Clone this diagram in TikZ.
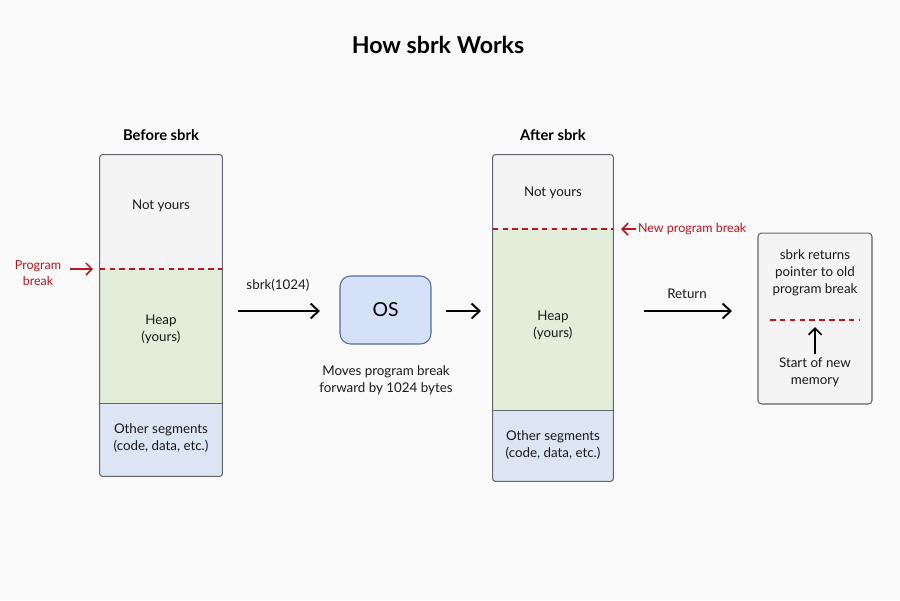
\documentclass[tikz,border=0pt]{standalone}
\usepackage{fontspec}
\setmainfont{Lato}
\usetikzlibrary{positioning}
\usetikzlibrary{arrows.meta}

\definecolor{notyours}{HTML}{F4F4F4}
\definecolor{heapgreen}{HTML}{E2EDDA}
\definecolor{segblue}{HTML}{DCE5F4}
\definecolor{osblue}{HTML}{D5E1F6}
\definecolor{osline}{HTML}{4F6FA0}
\definecolor{breakred}{HTML}{C0141C}
\definecolor{boxline}{HTML}{5F666E}
\definecolor{bgpaper}{HTML}{FAFAFA}

\begin{document}
\begin{tikzpicture}[x=0.02cm,y=-0.02cm]
    \tikzset{
    seg/.style={minimum width=2.44cm, inner sep=0pt},
    lbl/.style={font=\fontsize{7.6}{9.6}\selectfont, align=center, inner sep=1pt, text=black!90},
    head/.style={font=\fontsize{8.4}{10}\selectfont\bfseries},
    flow/.style={-{Straight Barb[length=1.6mm,width=3mm]}, line width=1.1pt, black},
    brk/.style={draw=breakred, line width=1pt, dash pattern=on 3.2pt off 2.4pt},
    redtext/.style={font=\fontsize{7.1}{9.2}\selectfont, align=center, inner sep=1pt, text=breakred},
    redtip/.style={-{Straight Barb[length=1.2mm,width=2.4mm]}, breakred, line width=0.9pt},
    outline/.style={draw=boxline, line width=0.6pt, rounded corners=1.5pt}
    }
        \useasboundingbox[fill=bgpaper] (0,0) rectangle (900,600);

        \node (title)[font=\fontsize{13.2}{15}\selectfont\bfseries] at (438,45) {How sbrk Works};

        % before sbrk
        \node (hbefore)[head] at (161,135) {Before sbrk};
        \node (nyL)[seg, fill=notyours, minimum height=2.28cm] at (161,212) {};
        \node (heapL)[seg, fill=heapgreen, minimum height=2.70cm] at (161,336.5) {};
        \node (otherL)[seg, fill=segblue, minimum height=1.44cm] at (161,440) {};
        \draw[outline] (nyL.north west) rectangle (otherL.south east);
        \draw[boxline, line width=0.6pt] (otherL.north west) -- (otherL.north east);
        \draw[brk] (nyL.south west) -- (nyL.south east);
        \node (nyLtxt)[lbl] at (161,206) {Not yours};
        \node (heapLtxt)[lbl] at (161,329) {Heap\\(yours)};
        \node (otherLtxt)[lbl] at (161,438) {Other segments\\(code, data, etc.)};

        \node (pbrk)[redtext] at (38,273) {Program\\break};
        \coordinate (pbrkend) at (93,269);
        \draw[redtip] (70,269) -- (pbrkend);

        % call into the OS
        \node (call)[lbl] at (278,285) {sbrk(1024)};
        \node (os)[draw=osline, fill=osblue, rounded corners=6pt, line width=0.6pt,
            minimum width=1.82cm, minimum height=1.36cm, font=\fontsize{11}{13}\selectfont] at (385.5,310) {OS};
        \node (moves)[lbl] at (386,380) {Moves program break\\forward by 1024 bytes};
        \coordinate (callstart) at (238,311);
        \coordinate (callend) at (320,311);
        \draw[flow] (callstart) -- (callend);

        % after sbrk
        \node (hafter)[head] at (553,135) {After sbrk};
        \node (nyR)[seg, fill=notyours, minimum width=2.40cm, minimum height=1.48cm] at (553,192) {};
        \node (heapR)[seg, fill=heapgreen, minimum width=2.40cm, minimum height=3.64cm] at (553,320) {};
        \node (otherR)[seg, fill=segblue, minimum width=2.40cm, minimum height=1.40cm] at (553,446) {};
        \draw[outline] (nyR.north west) rectangle (otherR.south east);
        \draw[boxline, line width=0.6pt] (otherR.north west) -- (otherR.north east);
        \draw[brk] (nyR.south west) -- (nyR.south east);
        \node (nyRtxt)[lbl] at (553,193) {Not yours};
        \node (heapRtxt)[lbl] at (553,325) {Heap\\(yours)};
        \node (otherRtxt)[lbl] at (553,445) {Other segments\\(code, data, etc.)};

        \coordinate (osout) at (446,311);
        \coordinate (afterin) at (481,311);
        \draw[flow] (osout) -- (afterin);

        \node (newbrk)[redtext, anchor=west] at (636,229) {New program break};
        \draw[redtip] (newbrk.west) -- ++(-15,0);

        % what sbrk hands back
        \node (ret)[lbl] at (687,294) {Return};
        \coordinate (retstart) at (644,311);
        \coordinate (retend) at (732,311);
        \draw[flow] (retstart) -- (retend);
        \node (result)[draw=boxline, fill=notyours, rounded corners=2pt, line width=0.6pt,
            minimum width=2.28cm, minimum height=3.42cm] at (815,318.5) {};
        \node (oldbrk)[lbl] at (815,273) {sbrk returns\\pointer to old\\program break};
        \coordinate (oldl) at (770,320);
        \coordinate (oldr) at (860,320);
        \draw[brk] (oldl) -- (oldr);
        \node (newmem)[lbl] at (815,372) {Start of new\\memory};
        \coordinate (memtip) at (815,327);
        \draw[-{Straight Barb[length=1.3mm,width=2.6mm]}, line width=1pt] (newmem.north) ++(0,-1) -- (memtip);
    \end{tikzpicture}
\end{document}
